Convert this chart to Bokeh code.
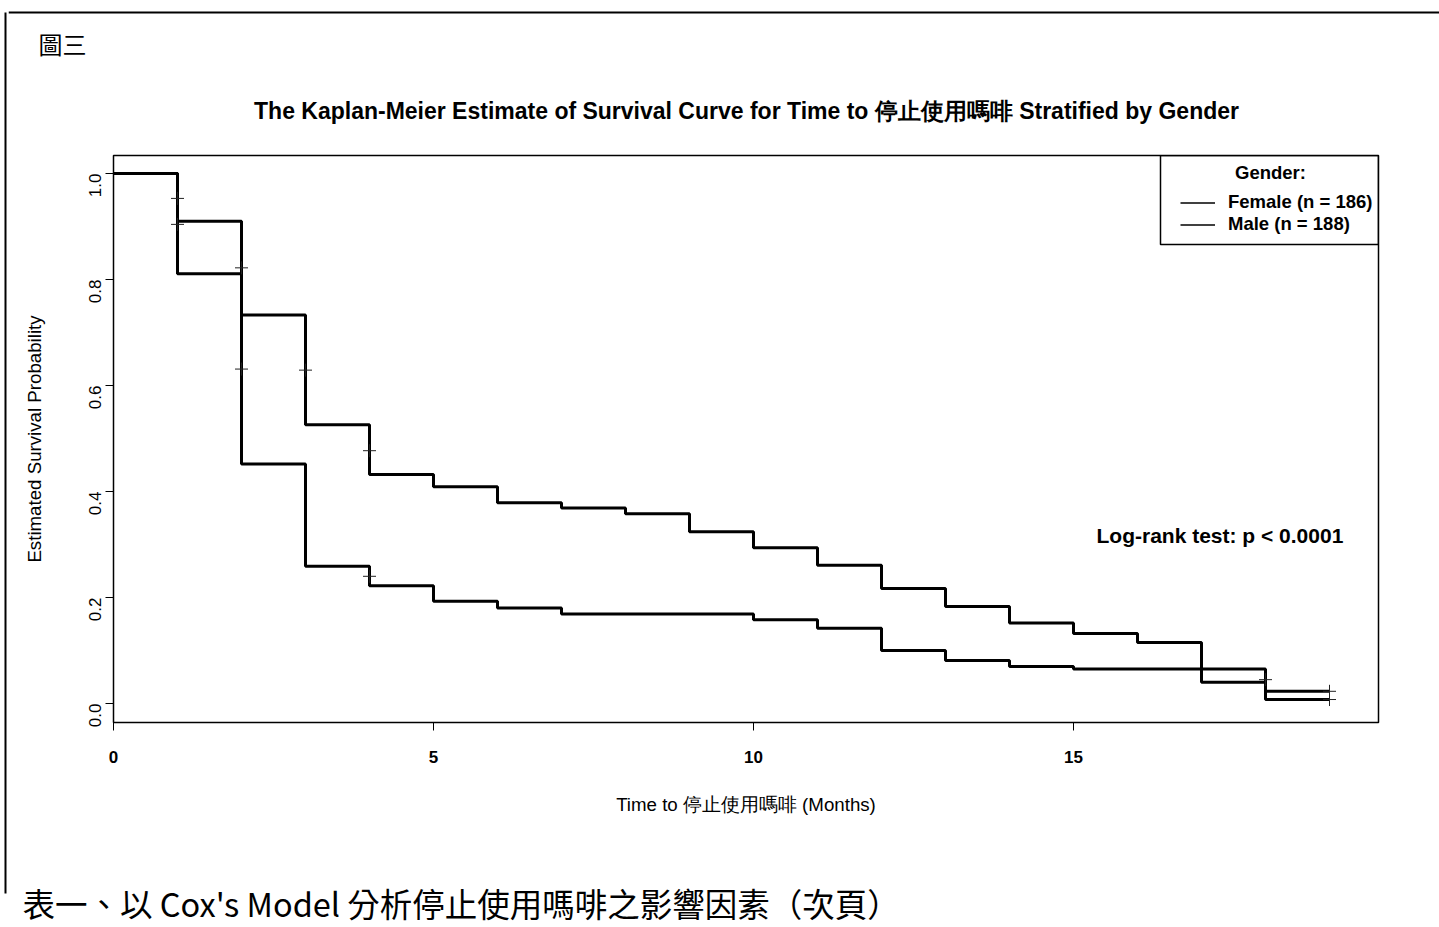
import math
import numpy as np
from bokeh.plotting import figure
from bokeh.layouts import column, row
from bokeh.models import (Range1d, FixedTicker, NumeralTickFormatter, Label, Legend,
                          LegendItem, BoxAnnotation)
from bokeh.embed import file_html
from bokeh.resources import INLINE

# ---------------- data ----------------
months = [0, 1, 2, 3, 4, 5, 6, 7, 8, 9, 10, 11, 12, 13, 14, 15, 16, 17, 18, 19]
female_surv = [1.0, 0.910, 0.733, 0.526, 0.432, 0.409, 0.379, 0.369, 0.358, 0.324,
               0.294, 0.261, 0.217, 0.183, 0.152, 0.132, 0.115, 0.040, 0.0075, 0.0075]
male_surv = [1.0, 0.811, 0.452, 0.259, 0.222, 0.193, 0.180, 0.169, 0.169, 0.169,
             0.158, 0.142, 0.100, 0.081, 0.070, 0.065, 0.065, 0.065, 0.023, 0.023]
censor_time = [1, 1, 2, 2, 3, 4, 4, 18, 19, 19]
censor_surv = [0.953, 0.904, 0.822, 0.631, 0.629, 0.477, 0.240, 0.045, 0.023, 0.0075]
x_ticks = [0, 5, 10, 15]
y_ticks = [0.0, 0.2, 0.4, 0.6, 0.8, 1.0]
legend_labels = ["Female (n = 186)", "Male (n = 188)"]

TITLE = "The Kaplan-Meier Estimate of Survival Curve for Time to 停止使用嗎啡 Stratified by Gender"
XLAB = "Time to 停止使用嗎啡 (Months)"
YLAB = "Estimated Survival Probability"
HEADER = "圖三"
FOOTER = "表一、以 Cox's Model  分析停止使用嗎啡之影響因素（次頁）"
FONT = "Liberation Sans"
CJK = "Noto Sans CJK TC"

# page layout (pixels of the 1439 x 927 page)
PAGE_W, PAGE_H = 1439, 927
STRIP_W = 8           # thin strip at the left holding the scanned page border
TOP_H = 150           # header figure height
BOT_Y = 830           # page y where footer figure starts
FRAME_L, FRAME_R, FRAME_T, FRAME_B = 113, 1378, 155, 722


def tx(px):
    return (px - FRAME_L) / 64.0


def sy(py):
    return (703 - py) / 530.0


def blank_fig(w, h, x0, x1, y0, y1):
    f = figure(width=w, height=h, x_range=Range1d(x0, x1), y_range=Range1d(y1, y0),
               output_backend="svg", toolbar_location=None,
               x_axis_location=None, y_axis_location=None, min_border=0)
    f.title.visible = False
    f.xgrid.visible = False
    f.ygrid.visible = False
    f.outline_line_color = None
    f.background_fill_color = "white"
    f.border_fill_color = "white"
    return f


# ---------------- left strip (page border line) ----------------
f_left = blank_fig(STRIP_W, PAGE_H, 0, STRIP_W, 0, PAGE_H)
f_left.add_layout(BoxAnnotation(left=4, right=6, top=12, bottom=893, fill_color="black",
                                fill_alpha=1, line_color=None))

# ---------------- header ----------------
f_top = blank_fig(PAGE_W - STRIP_W, TOP_H, STRIP_W, PAGE_W, 0, TOP_H)
f_top.add_layout(BoxAnnotation(left=STRIP_W, right=PAGE_W, top=11, bottom=13,
                               fill_color="black", fill_alpha=1, line_color=None))
f_top.add_layout(Label(x=38, y=43, text=HEADER, text_font=CJK, text_font_size="24px",
                       text_align="left", text_baseline="middle", text_color="black"))
f_top.add_layout(Label(x=746, y=110, text=TITLE, text_font=FONT, text_font_size="23px",
                       text_font_style="bold", text_align="center",
                       text_baseline="middle", text_color="black"))

# ---------------- main chart ----------------
p = figure(width=PAGE_W - STRIP_W, height=BOT_Y - TOP_H,
           x_range=Range1d(0, (FRAME_R - FRAME_L) / 64.0),
           y_range=Range1d(sy(FRAME_B), sy(FRAME_T)),
           output_backend="svg", toolbar_location=None,
           min_border_left=FRAME_L - STRIP_W, min_border_right=PAGE_W - FRAME_R,
           min_border_top=FRAME_T - TOP_H, min_border_bottom=BOT_Y - FRAME_B)
p.title.visible = False
p.xgrid.visible = False
p.ygrid.visible = False
p.outline_line_color = "black"
p.outline_line_width = 1.5
p.background_fill_color = "white"
p.border_fill_color = "white"

for ax in (p.xaxis[0], p.yaxis[0]):
    ax.axis_line_color = None
    ax.major_tick_out = 8
    ax.major_tick_in = 0
    ax.minor_tick_out = 0
    ax.minor_tick_in = 0
    ax.major_tick_line_color = "black"
    ax.major_label_text_font = FONT
    ax.major_label_text_color = "black"
    ax.axis_label_text_font = FONT
    ax.axis_label_text_font_style = "normal"
    ax.axis_label_text_font_size = "18.7px"
    ax.axis_label_text_color = "black"

p.xaxis.ticker = FixedTicker(ticks=x_ticks)
p.xaxis.major_label_text_font_size = "17px"
p.xaxis.major_label_text_font_style = "bold"
p.xaxis.major_label_standoff = 20
p.xaxis.axis_label = XLAB
p.xaxis.axis_label_standoff = 28

p.yaxis.ticker = FixedTicker(ticks=y_ticks)
p.yaxis.formatter = NumeralTickFormatter(format="0.0")
p.yaxis.major_label_orientation = math.pi / 2
p.yaxis.major_label_text_font_size = "17px"
p.yaxis.major_label_standoff = 11
p.yaxis.axis_label = YLAB
p.yaxis.axis_label_standoff = 35

r_f = p.step(months, female_surv, mode="after", line_width=3, line_color="black")
r_m = p.step(months, male_surv, mode="after", line_width=3, line_color="black")
p.scatter(censor_time, censor_surv, marker="cross", size=13,
          line_color="#222222", line_width=1)

# thin legend samples, as in the original legend (no visible marks in the plot)
key_f = p.line(x=np.array([np.nan]), y=np.array([np.nan]), line_width=1.3,
               line_color="black")
key_m = p.line(x=np.array([np.nan]), y=np.array([np.nan]), line_width=1.3,
               line_color="black")
legend = Legend(items=[LegendItem(label=legend_labels[0], renderers=[key_f]),
                       LegendItem(label=legend_labels[1], renderers=[key_m])],
                location=(1067, 487), orientation="vertical", padding=0, margin=0,
                spacing=0, glyph_width=35, glyph_height=21, label_height=21,
                label_standoff=13, label_text_font=FONT, label_text_color="black",
                label_text_font_style="bold", label_text_font_size="18.5px",
                border_line_color=None, background_fill_alpha=0)
p.add_layout(legend)
p.add_layout(BoxAnnotation(left=tx(1160), right=(FRAME_R - FRAME_L) / 64.0,
                           bottom=sy(244), top=sy(FRAME_T), fill_alpha=0,
                           line_color="black", line_alpha=1, line_width=1.5))
p.add_layout(Label(x=tx(1270), y=sy(172), text="Gender:", text_font=FONT,
                   text_font_size="18.5px", text_font_style="bold", text_align="center",
                   text_baseline="middle", text_color="black"))
p.add_layout(Label(x=tx(1096), y=sy(535), text="Log-rank test: p < 0.0001",
                   text_font=FONT, text_font_size="21px", text_font_style="bold",
                   text_align="left", text_baseline="middle", text_color="black"))

# ---------------- footer ----------------
f_bot = blank_fig(PAGE_W - STRIP_W, PAGE_H - BOT_Y, STRIP_W, PAGE_W, BOT_Y, PAGE_H)
f_bot.add_layout(Label(x=22, y=902, text=FOOTER, text_font=CJK, text_font_size="32.5px",
                       text_align="left", text_baseline="middle", text_color="black"))

# header / footer wrapped in their own rows so their frames are not aligned
# with the chart's frame
layout = row(f_left, column(row(f_top), p, row(f_bot), spacing=0), spacing=0)
open("out.html", "w").write(file_html(layout, INLINE))
